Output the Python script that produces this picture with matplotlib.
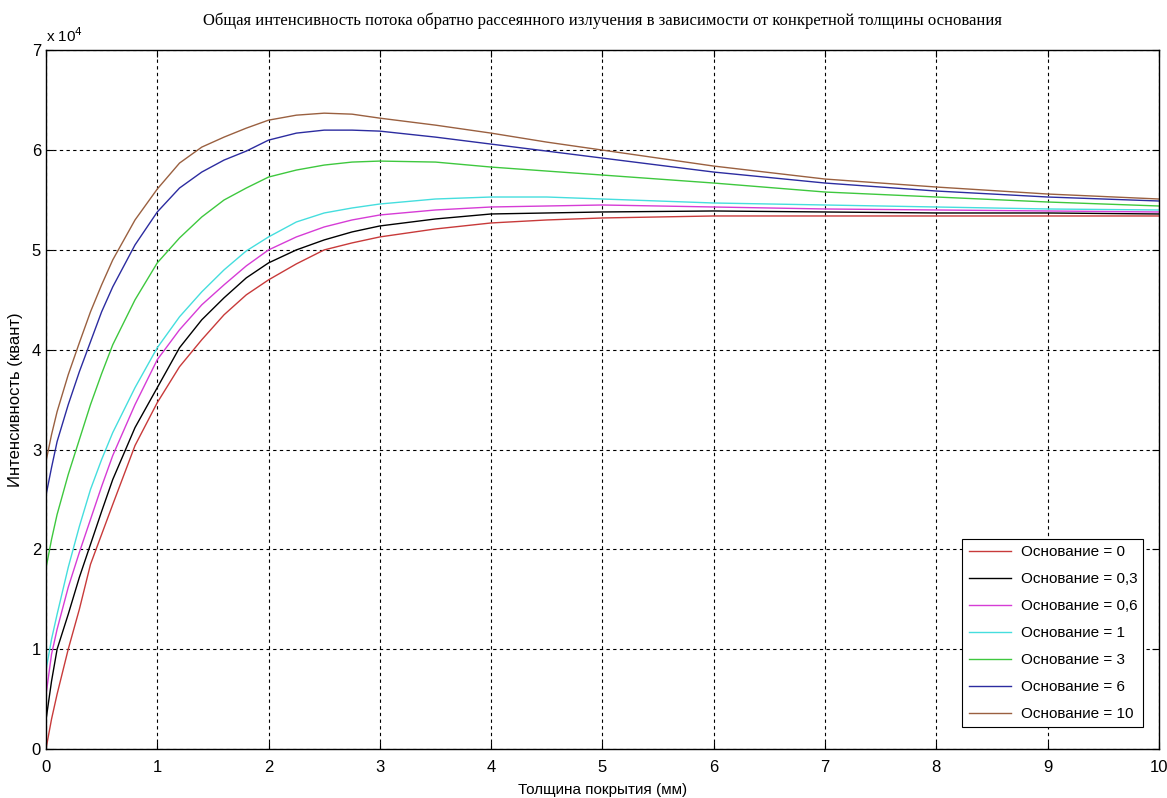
import matplotlib
matplotlib.use("Agg")
import matplotlib.pyplot as plt

# thickness of coating, mm
thickness = [0, 0.05, 0.1, 0.2, 0.3, 0.4, 0.5, 0.6, 0.8, 1.0, 1.2, 1.4, 1.6, 1.8, 2.0,
             2.25, 2.5, 2.75, 3, 3.5, 4, 4.5, 5, 6, 7, 8, 9, 10]

# intensity, x 10^4 quanta
base_0 = [0, 0.3, 0.55, 1.0, 1.4, 1.85, 2.15, 2.45, 3.04, 3.47, 3.83, 4.1, 4.35, 4.55, 4.70,
          4.86, 5.0, 5.07, 5.13, 5.21, 5.27, 5.30, 5.32, 5.34, 5.34, 5.34, 5.34, 5.34]
base_03 = [0.29, 0.68, 1.0, 1.35, 1.72, 2.05, 2.38, 2.7, 3.22, 3.62, 4.02, 4.3, 4.52, 4.72, 4.87,
           5.0, 5.10, 5.18, 5.24, 5.31, 5.36, 5.37, 5.38, 5.39, 5.38, 5.37, 5.37, 5.36]
base_06 = [0.54, 0.95, 1.2, 1.62, 1.97, 2.3, 2.63, 2.94, 3.45, 3.9, 4.2, 4.45, 4.65, 4.84, 5.0,
           5.13, 5.23, 5.3, 5.35, 5.40, 5.43, 5.44, 5.45, 5.43, 5.41, 5.40, 5.39, 5.38]
base_1 = [0.79, 1.1, 1.35, 1.82, 2.23, 2.6, 2.9, 3.17, 3.62, 4.02, 4.33, 4.58, 4.8, 4.99, 5.13,
          5.28, 5.37, 5.42, 5.46, 5.51, 5.53, 5.53, 5.51, 5.47, 5.45, 5.43, 5.41, 5.40]
base_3 = [1.81, 2.1, 2.35, 2.75, 3.1, 3.45, 3.76, 4.05, 4.5, 4.87, 5.12, 5.33, 5.5, 5.62, 5.73,
          5.8, 5.85, 5.88, 5.89, 5.88, 5.83, 5.79, 5.75, 5.67, 5.58, 5.53, 5.48, 5.44]
base_6 = [2.54, 2.82, 3.08, 3.45, 3.78, 4.08, 4.38, 4.63, 5.05, 5.38, 5.62, 5.78, 5.9, 5.99, 6.1,
          6.17, 6.2, 6.2, 6.19, 6.13, 6.06, 5.99, 5.92, 5.78, 5.67, 5.59, 5.53, 5.49]
base_10 = [2.88, 3.15, 3.38, 3.75, 4.07, 4.38, 4.65, 4.9, 5.3, 5.61, 5.87, 6.03, 6.13, 6.22, 6.30,
           6.35, 6.37, 6.36, 6.32, 6.25, 6.17, 6.08, 6.0, 5.84, 5.71, 5.63, 5.56, 5.51]

labels = ["Основание = 0", "Основание = 0,3", "Основание = 0,6", "Основание = 1",
          "Основание = 3", "Основание = 6", "Основание = 10"]
series = [base_0, base_03, base_06, base_1, base_3, base_6, base_10]
colors = ["#c83a3a", "#000000", "#d63cd6", "#45dede", "#3ec83e", "#2c2ca0", "#9a6040"]

plt.rcParams["font.family"] = ["Liberation Sans", "DejaVu Sans"]

fig = plt.figure(figsize=(11.67, 7.98), dpi=100)
ax = fig.add_axes([0.0394, 0.0614, 0.9536, 0.8756])

for ys, lab, col in zip(series, labels, colors):
    ax.plot(thickness, ys, color=col, lw=1.0, label=lab)

ax.set_xlim(0, 10)
ax.set_ylim(0, 7)
ax.set_xticks(range(0, 11))
ax.set_yticks(range(0, 8))
ax.tick_params(direction="in", top=True, right=True, labelsize=12, length=5)
ax.tick_params(axis="x", pad=8)
ax.grid(True, color="black", linestyle=(0, (3, 3)), lw=0.8)
for s in ax.spines.values():
    s.set_linewidth(1.0)

ax.text(0.0, 7.05, "x 10$^4$", fontsize=11, ha="left", va="bottom")
ax.set_title("Общая интенсивность потока обратно рассеянного излучения в зависимости от конкретной толщины основания",
             family=["Liberation Serif", "DejaVu Serif"], fontsize=12, pad=18)
ax.set_xlabel("Толщина покрытия (мм)", fontsize=11, labelpad=6)
ax.set_ylabel("Интенсивность (квант)", fontsize=12, labelpad=6)

leg = ax.legend(loc="lower right", bbox_to_anchor=(0.986, 0.031), borderaxespad=0,
                fontsize=11, handlelength=2.8, handletextpad=0.6, frameon=True,
                fancybox=False, framealpha=1, edgecolor="black", labelspacing=0.85)
leg.get_frame().set_linewidth(0.8)

fig.savefig("out.png", dpi=100)
